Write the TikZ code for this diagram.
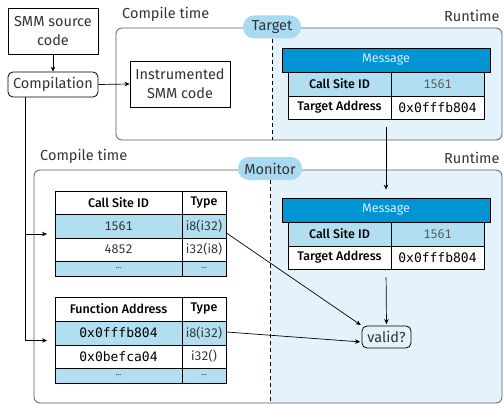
\documentclass[tikz,border=0pt]{standalone}
\usepackage{fontspec}
\setmainfont{Fira Sans}[Numbers={Lining,Monospaced}, BoldFont={Fira Sans Medium}]
\setmonofont{DejaVu Sans Mono}
\usetikzlibrary{arrows.meta}
\definecolor{panel}{HTML}{E4F3FB}
\definecolor{pillblue}{HTML}{A9DAF1}
\definecolor{rowblue}{HTML}{B1DFF1}
\definecolor{hdrblue}{HTML}{0094D4}
\definecolor{hdrtext}{HTML}{D8F0FA}
\definecolor{contline}{HTML}{5C5C5C}
\definecolor{txt}{HTML}{333333}
\begin{document}
\begin{tikzpicture}[x=1pt,y=-1pt,
  big/.style={font=\fontsize{14.5}{19}\selectfont, text=txt},
  sm/.style={font=\fontsize{12.5}{14}\selectfont},
  box/.style={big, draw=black, line width=0.8pt, inner sep=0pt, align=center},
  rbox/.style={box, rounded corners=5pt},
  cont/.style={draw=contline, line width=0.8pt, rounded corners=6pt},
  pill/.style={big, fill=pillblue, rounded corners=11pt, minimum height=23pt, inner sep=0pt},
  cell/.style={sm, draw=black, line width=0.9pt, inner sep=0pt, text=black},
  hdr/.style={cell, fill=hdrblue, text=hdrtext, minimum width=208pt, minimum height=24pt},
  lbl/.style={big, anchor=base west, inner sep=0pt},
  arr/.style={-{Stealth[length=5pt,width=4.5pt]}, line width=0.7pt},
  dsh/.style={dash pattern=on 4pt off 3pt, line width=0.8pt}
]
\useasboundingbox (0,0) rectangle (504,404);

% ---------- top container ----------
\begin{scope}
  \clip[rounded corners=6pt] (116,28) rectangle (502,140);
  \fill[white] (116,28) rectangle (272,140);
  \fill[panel] (272,28) rectangle (502,140);
\end{scope}
\draw[cont] (116,28) rectangle (502,140);

% ---------- monitor container ----------
\begin{scope}
  \clip[rounded corners=6pt] (34,170) rectangle (502,403);
  \fill[white] (34,170) rectangle (270,403);
  \fill[panel] (270,170) rectangle (502,403);
\end{scope}
\draw[cont] (34,170) rectangle (502,403);

% pills and dashed lines
\node[pill, minimum width=58pt] (tgt) at (272,27) {Target};
\node[pill, minimum width=64pt] (mon) at (270,168.5) {Monitor};
\coordinate (d1) at (272,140);
\coordinate (d2) at (270,403);
\draw[dsh] (tgt.south) -- (d1);
\draw[dsh] (mon.south) -- (d2);

% labels
\node[lbl] (ct1) at (122,18.3) {Compile time};
\node[lbl] (rt1) at (444,21.5) {Runtime};
\node[lbl] (ct2) at (40,160.5) {Compile time};
\node[lbl] (rt2) at (444,163) {Runtime};

% ---------- left flow ----------
\node[box, minimum width=90pt, minimum height=46pt] (src) at (53,31) {SMM source\\code};
\node[rbox, minimum width=90pt, minimum height=25pt] (comp) at (53,84.5) {Compilation};
\node[box, minimum width=100pt, minimum height=46pt] (inst) at (180,84) {Instrumented\\SMM code};
\draw[arr] (src.south) -- (comp.north);
\draw[arr] (comp.east) -- (inst.west);

% ---------- message (target) ----------
\node[hdr] (mh1) at (386,60) {Message};
\node[cell, fill=rowblue, minimum width=103pt, minimum height=24pt] (m1a) at (339.5,84) {\bfseries Call Site ID};
\node[cell, fill=rowblue, minimum width=93pt, minimum height=24pt, text=txt!80] (m1b) at (437.5,84) {1561};
\node[cell, fill=white, minimum width=103pt, minimum height=23pt] (m1c) at (339.5,107.5) {\bfseries Target Address};
\node[cell, fill=white, minimum width=93pt, minimum height=23pt, font=\fontsize{13}{14}\ttfamily] (m1d) at (437.5,107.5) {0x0fffb804};

% ---------- message (monitor) ----------
\node[hdr] (mh2) at (386,210) {Message};
\node[cell, fill=rowblue, minimum width=103pt, minimum height=24pt] (m2a) at (339.5,234) {\bfseries Call Site ID};
\node[cell, fill=rowblue, minimum width=93pt, minimum height=24pt, text=txt!80] (m2b) at (437.5,234) {1561};
\node[cell, fill=white, minimum width=103pt, minimum height=23pt] (m2c) at (339.5,257.5) {\bfseries Target Address};
\node[cell, fill=white, minimum width=93pt, minimum height=23pt, font=\fontsize{13}{14}\ttfamily] (m2d) at (437.5,257.5) {0x0fffb804};

% ---------- call site table ----------
\node[cell, fill=white, minimum width=127pt, minimum height=23pt] (c0a) at (118.5,202.5) {\bfseries Call Site ID};
\node[cell, fill=white, minimum width=44pt, minimum height=23pt] (c0b) at (204,202.5) {\bfseries Type};
\node[cell, fill=rowblue, minimum width=127pt, minimum height=24pt, text=txt] (c1a) at (118.5,226) {1561};
\node[cell, fill=rowblue, minimum width=44pt, minimum height=24pt, text=txt] (c1b) at (204,226) {i8(i32)};
\node[cell, fill=white, minimum width=127pt, minimum height=23pt, text=txt] (c2a) at (118.5,249.5) {4852};
\node[cell, fill=white, minimum width=44pt, minimum height=23pt, text=txt] (c2b) at (204,249.5) {i32(i8)};
\node[cell, fill=rowblue, minimum width=127pt, minimum height=15pt, font=\fontsize{8}{9}\selectfont, text=txt] (c3a) at (118.5,268.5) {...};
\node[cell, fill=rowblue, minimum width=44pt, minimum height=15pt, font=\fontsize{8}{9}\selectfont, text=txt] (c3b) at (204,268.5) {...};

% ---------- function table ----------
\node[cell, fill=white, minimum width=127pt, minimum height=24pt] (f0a) at (118.5,309) {\bfseries Function Address};
\node[cell, fill=white, minimum width=44pt, minimum height=24pt] (f0b) at (204,309) {\bfseries Type};
\node[cell, fill=rowblue, minimum width=127pt, minimum height=24pt, font=\fontsize{13}{14}\ttfamily] (f1a) at (118.5,333) {0x0fffb804};
\node[cell, fill=rowblue, minimum width=44pt, minimum height=24pt, text=txt] (f1b) at (204,333) {i8(i32)};
\node[cell, fill=white, minimum width=127pt, minimum height=23pt, font=\fontsize{13}{14}\ttfamily] (f2a) at (118.5,356.5) {0x0befca04};
\node[cell, fill=white, minimum width=44pt, minimum height=23pt, text=txt] (f2b) at (204,356.5) {i32()};
\node[cell, fill=rowblue, minimum width=127pt, minimum height=15pt, font=\fontsize{8}{9}\selectfont, text=txt] (f3a) at (118.5,375.5) {...};
\node[cell, fill=rowblue, minimum width=44pt, minimum height=15pt, font=\fontsize{8}{9}\selectfont, text=txt] (f3b) at (204,375.5) {...};

% ---------- valid ----------
\node[rbox, minimum width=49pt, minimum height=22pt] (valid) at (386.5,337) {valid?};

% ---------- connectors ----------
\coordinate (tr0) at (25,97);
\coordinate (tr1) at (25,234);
\coordinate (e1) at (47,234);
\coordinate (e2) at (47,340.5);
\draw[arr] (tr0) |- (e2);
\draw[arr] (tr1) -- (e1);

\draw[arr, shorten <=8pt, shorten >=8pt] (m1d.south -| mh1.south) -- (mh2.north);
\draw[arr, shorten <=8pt, shorten >=1.5pt] (m2d.south -| mh2.south) -- (valid.north);
\draw[arr, shorten >=1pt] ([yshift=-7pt]c1b.east) -- (valid.north west);
\draw[arr, shorten >=1.5pt] ([yshift=1pt]f1b.east) -- ([yshift=-5pt]valid.west);
\end{tikzpicture}
\end{document}
